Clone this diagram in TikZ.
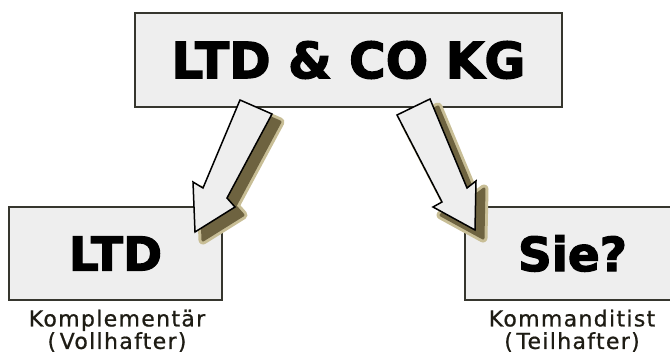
\documentclass[tikz,border=0pt]{standalone}
\usepackage{fontspec}
\setmainfont{DejaVu Sans}
\newfontfamily\heavyfont[FakeBold=2.5]{DejaVu Sans Bold}
\newfontfamily\labelfont[LetterSpace=6, FakeBold=0.8]{DejaVu Sans}
\definecolor{boxfill}{HTML}{EEEEEE}
\definecolor{boxline}{HTML}{36362E}
\definecolor{shadowdark}{RGB}{110,99,64}
\definecolor{shadowlight}{RGB}{200,190,150}
\definecolor{labeltext}{HTML}{1E1C14}
\tikzset{
  box/.style={draw=boxline, line width=1.8pt, fill=boxfill, inner sep=0pt},
  bigtext/.style={font=\heavyfont\fontsize{50}{50}\selectfont},
  midtext/.style={font=\heavyfont\fontsize{47}{47}\selectfont},
  arrowbody/.style={draw=black, line width=1.5pt, fill=boxfill, line join=miter},
  shadowhalo/.style={draw=shadowlight, line width=9pt, fill=shadowlight, line join=round},
  shadowcore/.style={draw=shadowdark, line width=3pt, fill=shadowdark, line join=round},
  lbl/.style={font=\labelfont\fontsize{22}{22.5}\selectfont, text=labeltext, align=center, inner sep=0pt, anchor=north},
}
\begin{document}
\begin{tikzpicture}[x=1pt,y=-1pt]
\useasboundingbox (0,0) rectangle (670,358);
% boxes
\node[box, bigtext, minimum width=427pt, minimum height=94pt] (top) at (348.5,60) {LTD \& CO KG};
\node[box, midtext, minimum width=213pt, minimum height=93pt] (ltd) at (115.5,253.5) {LTD};
\node[box, midtext, minimum width=215pt, minimum height=93pt] (sie) at (572.5,253.5) {Sie?};
% labels
\node[lbl] (lblL) at (117,309.5) {Komplementär\\(\,Vollhafter)};
\node[lbl] (lblR) at (572,309.5) {Kommanditist\\(\,Teilhafter)};
% arrow shapes
\def\leftarrowpath{(240,100) -- (272,114) -- (227,198) -- (235,207) -- (195,232) -- (193,182) -- (203,188) -- cycle}
\def\rightarrowpath{(430,99) -- (397,115) -- (442,202) -- (433,207) -- (475,230) -- (476,181) -- (467,188) -- cycle}
% shadows
\begin{scope}[shift={(8,8)}]
  \filldraw[shadowhalo] \leftarrowpath;
  \filldraw[shadowhalo] \rightarrowpath;
  \filldraw[shadowcore] \leftarrowpath;
  \filldraw[shadowcore] \rightarrowpath;
\end{scope}
% arrows
\filldraw[arrowbody] \leftarrowpath;
\filldraw[arrowbody] \rightarrowpath;
\end{tikzpicture}
\end{document}
